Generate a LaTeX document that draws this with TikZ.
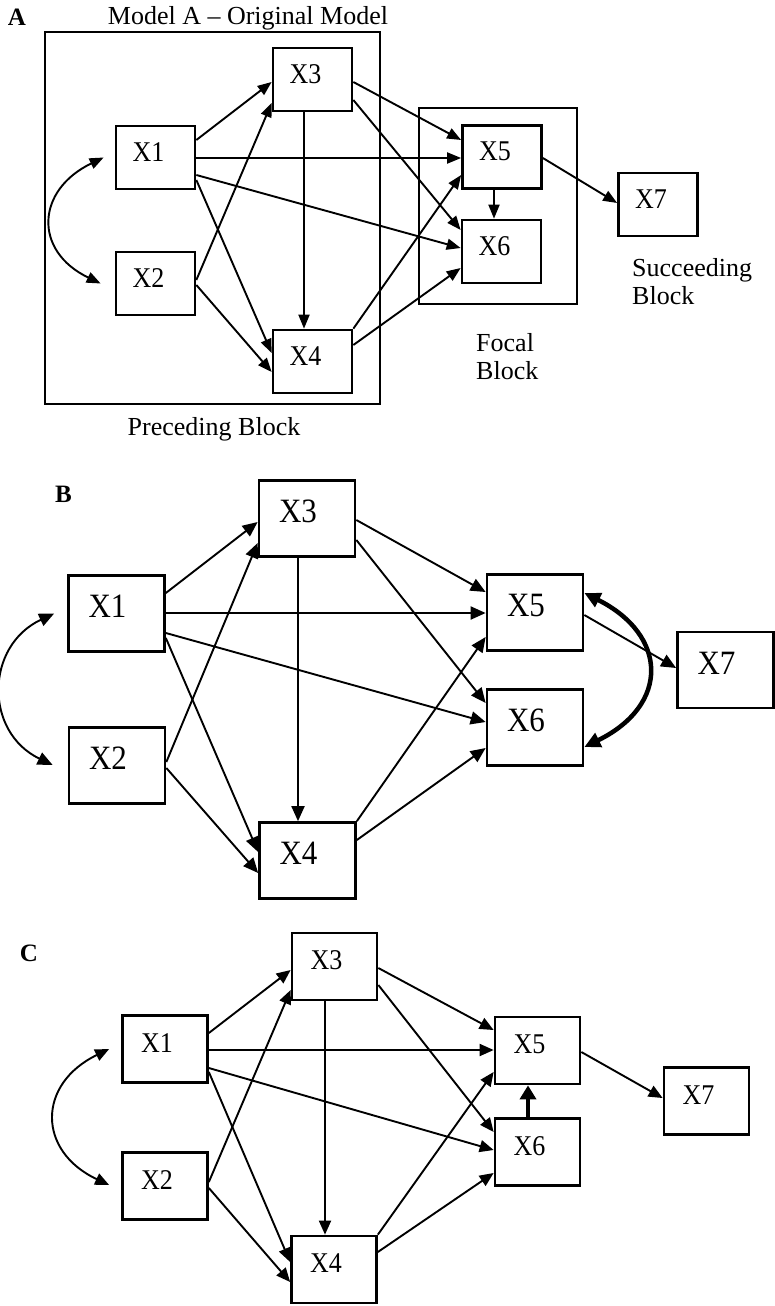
\documentclass[tikz,border=0pt]{standalone}
\usepackage{fontspec}
\usepackage{graphicx}
\setmainfont{Liberation Serif}
\usetikzlibrary{arrows.meta}
\newcommand{\tallx}[1]{\scalebox{1}[1.1]{#1}}
\tikzset{
  bx/.style={draw, line width=2.7pt, inner sep=0pt},
  bxA/.style={bx, minimum width=79pt, minimum height=63pt},
  bxB/.style={bx, minimum width=96pt, minimum height=76pt},
  bxC/.style={bx, minimum width=85pt, minimum height=67pt},
  tA/.style={font=\fontsize{26}{30}\selectfont, inner sep=0pt, xshift=-7pt, yshift=5.5pt},
  tB/.style={font=\fontsize{31}{36}\selectfont, inner sep=0pt, xshift=-9pt, yshift=7pt},
  tC/.style={font=\fontsize{26}{30}\selectfont, inner sep=0pt, xshift=-8pt, yshift=6pt},
  arA/.style={line width=1.9pt, -{Triangle[length=14pt,width=11pt]}},
  arB/.style={line width=1.9pt, -{Triangle[length=15pt,width=13pt]}},
  arC/.style={line width=1.9pt, -{Triangle[length=14pt,width=12pt]}},
  dblA/.style={line width=1.9pt, {Triangle[length=14pt,width=11pt]}-{Triangle[length=14pt,width=11pt]}},
  dblB/.style={line width=1.9pt, {Triangle[length=15pt,width=13pt]}-{Triangle[length=15pt,width=13pt]}},
  dblC/.style={line width=1.9pt, {Triangle[length=14pt,width=12pt]}-{Triangle[length=14pt,width=12pt]}},
  thkB/.style={line width=4.5pt, {Triangle[length=16pt,width=15pt]}-{Triangle[length=16pt,width=15pt]}},
  thkC/.style={line width=4.8pt, -{Triangle[length=14pt,width=16pt]}},
  lbl/.style={font=\fontsize{26}{28.5}\selectfont, inner sep=0pt},
  pan/.style={font=\fontsize{25}{28}\selectfont\bfseries, inner sep=0pt, anchor=base},
  blk/.style={draw, line width=2.7pt, inner sep=0pt},
}
\begin{document}
\begin{tikzpicture}[x=1pt,y=-1pt]
\useasboundingbox (0,0) rectangle (775,1306);

% ---------------- Panel A ----------------
\node[pan] (la) at (17,26) {A};
\node[lbl, anchor=base] (title) at (248,25) {Model A – Original Model};
\node[blk, minimum width=335pt, minimum height=372pt] (pre) at (212.5,218) {};
\node[blk, minimum width=158pt, minimum height=196pt] (foc) at (498,206) {};
\node[lbl, anchor=base] (prec) at (214,435) {Preceding Block};
\node[lbl, anchor=north west, align=left] (focl) at (476,333) {Focal\\Block};
\node[lbl, anchor=north west, align=left] (succ) at (632,258) {Succeeding\\Block};

\node[bxA, label={[tA]center:\tallx{X1}}] (a1) at (155.5,157.5) {};
\node[bxA, label={[tA]center:\tallx{X2}}] (a2) at (155.5,283.5) {};
\node[bxA, label={[tA]center:\tallx{X3}}] (a3) at (312.5,79.5) {};
\node[bxA, label={[tA]center:\tallx{X4}}] (a4) at (312.5,361.5) {};
\node[bxA, label={[tA]center:\tallx{X5}}] (a5) at (502,157) {};
\node[bxA, label={[tA]center:\tallx{X6}}] (a6) at (501.5,251.5) {};
\node[bxA, label={[tA]center:\tallx{X7}}] (a7) at (658,204.5) {};

\draw[arA] (a1.east |- 0,140) -- (a3.west |- 0,82);
\draw[arA] (a2.east |- 0,280) -- (a3.west |- 0,103);
\draw[arA] (a1.east |- 0,158) -- (a5.west |- 0,158);
\draw[arA] (a1.east |- 0,175) -- (a6.west |- 0,248);
\draw[arA] (a1.east |- 0,180) -- (a4.west |- 0,353);
\draw[arA] (a2.east |- 0,285) -- (a4.west |- 0,372);
\draw[arA] (a3.south -| 304,0) -- (a4.north -| 304,0);
\draw[arA] (a3.east |- 0,82) -- (a5.west |- 0,140);
\draw[arA] (a3.east |- 0,100) -- (a6.west |- 0,230);
\draw[arA] (a4.north east) -- (a5.west |- 0,175);
\draw[arA] (a4.east |- 0,345) -- (a6.west |- 0,268);
\draw[arA] (a5.south -| 494,0) -- (a6.north -| 494,0);
\draw[arA] (a5.east |- 0,158) -- (a7.west |- 0,203);
\draw[dblA] ([xshift=-11pt]a1.west) .. controls (36,190) and (33,251) .. ([xshift=-14pt]a2.west);

% ---------------- Panel B ----------------
\node[pan] (lb) at (63.5,502) {B};
\node[bxB, label={[tB]center:\tallx{X1}}] (b1) at (116.5,613.5) {};
\node[bxB, label={[tB]center:\tallx{X2}}] (b2) at (117,765.5) {};
\node[bxB, label={[tB]center:\tallx{X3}}] (b3) at (307,518.5) {};
\node[bxB, label={[tB]center:\tallx{X4}}] (b4) at (307.5,860.5) {};
\node[bxB, label={[tB]center:\tallx{X5}}] (b5) at (535,612.5) {};
\node[bxB, label={[tB]center:\tallx{X6}}] (b6) at (535,727.5) {};
\node[bxB, label={[tB]center:\tallx{X7}}] (b7) at (725.5,670) {};

\draw[arB] (b1.east |- 0,593) -- (b3.west |- 0,522);
\draw[arB] (b2.east |- 0,762) -- (b3.west |- 0,543);
\draw[arB] (b1.east |- 0,613) -- (b5.west |- 0,613);
\draw[arB] (b1.east |- 0,633) -- (b6.west |- 0,722);
\draw[arB] (b1.east |- 0,638) -- (b4.west |- 0,852);
\draw[arB] (b2.east |- 0,768) -- (b4.west |- 0,873);
\draw[arB] (b3.south -| 298,0) -- (b4.north -| 298,0);
\draw[arB] (b3.east |- 0,520) -- (b5.west |- 0,592);
\draw[arB] (b3.east |- 0,540) -- (b6.west |- 0,703);
\draw[arB] (b4.north east) -- (b5.west |- 0,637);
\draw[arB] (b4.east |- 0,840) -- (b6.west |- 0,748);
\draw[arB] (b5.east |- 0,615) -- (b7.west |- 0,668);
\draw[dblB] ([xshift=-13pt]b1.west) .. controls (-15,646) and (-16,732) .. ([xshift=-15pt]b2.west |- 0,765);
\draw[thkB] (b5.east |- 0,593) .. controls (668,635) and (670,705) .. (b6.east |- 0,747);

% ---------------- Panel C ----------------
\node[pan] (lc) at (29,961) {C};
\node[bxC, label={[tC]center:\tallx{X1}}] (c1) at (165,1049) {};
\node[bxC, label={[tC]center:\tallx{X2}}] (c2) at (165,1186) {};
\node[bxC, label={[tC]center:\tallx{X3}}] (c3) at (334.5,966.5) {};
\node[bxC, label={[tC]center:\tallx{X4}}] (c4) at (334,1269.5) {};
\node[bxC, label={[tC]center:\tallx{X5}}] (c5) at (537.5,1050.5) {};
\node[bxC, label={[tC]center:\tallx{X6}}] (c6) at (537.5,1152) {};
\node[bxC, label={[tC]center:\tallx{X7}}] (c7) at (706.5,1101) {};

\draw[arC] (c1.east |- 0,1033) -- (c3.west |- 0,970);
\draw[arC] (c2.east |- 0,1182) -- (c3.west |- 0,990);
\draw[arC] (c1.east |- 0,1050) -- (c5.west |- 0,1050);
\draw[arC] (c1.east |- 0,1068) -- (c6.west |- 0,1150);
\draw[arC] (c1.east |- 0,1072) -- (c4.west |- 0,1262);
\draw[arC] (c2.east |- 0,1188) -- (c4.west |- 0,1282);
\draw[arC] (c3.south -| 325,0) -- (c4.north -| 325,0);
\draw[arC] (c3.east |- 0,968) -- (c5.west |- 0,1030);
\draw[arC] (c3.east |- 0,985) -- (c6.west |- 0,1132);
\draw[arC] (c4.north east) -- (c5.west |- 0,1072);
\draw[arC] (c4.east |- 0,1252) -- (c6.west |- 0,1173);
\draw[thkC] (c6.north -| 528,0) -- (c5.south -| 528,0);
\draw[arC] (c5.east |- 0,1052) -- (c7.west |- 0,1098);
\draw[dblC] ([xshift=-12pt]c1.west) .. controls (37,1084) and (37,1151) .. ([xshift=-12pt]c2.west |- 0,1185);
\end{tikzpicture}
\end{document}
